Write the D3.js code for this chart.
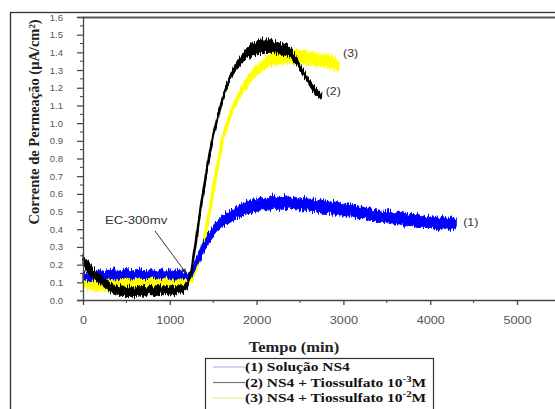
<!DOCTYPE html>
<html>
<head>
<meta charset="utf-8">
<script src="https://cdn.jsdelivr.net/npm/d3@7"></script>
<style>
  html, body { margin: 0; padding: 0; background: #fff; }
  svg { display: block; }
</style>
</head>
<body>
<svg id="chart" width="555" height="409"></svg>
<script>
// Hydrogen permeation current vs. time for three test solutions.
// Each series is stored as the lower and upper edge of its noisy trace.
const tempo = [
  0, 50, 100, 150, 200, 250, 300, 350, 400, 450, 500, 550, 600, 650, 700, 750, 800, 850, 900, 950,
  1000, 1050, 1100, 1150, 1200, 1250, 1300, 1350, 1400, 1450, 1500, 1550, 1600, 1650, 1700, 1750, 1800, 1850, 1900, 1950,
  2000, 2050, 2100, 2150, 2200, 2250, 2300, 2350, 2400, 2450, 2500, 2550, 2600, 2650, 2700, 2750, 2800, 2850, 2900, 2950,
  3000, 3050, 3100, 3150, 3200, 3250, 3300, 3350, 3400, 3450, 3500, 3550, 3600, 3650, 3700, 3750, 3800, 3850, 3900, 3950,
  4000, 4050, 4100, 4150, 4200, 4250, 4300
];

// (1) Solução NS4
const ns4Min = [
  0.11, 0.11, 0.11, 0.12, 0.12, 0.12, 0.12, 0.12, 0.12, 0.12, 0.13, 0.12, 0.12, 0.13, 0.12, 0.12, 0.13, 0.12, 0.12, 0.13,
  0.12, 0.12, 0.12, 0.12, 0.12, 0.13, 0.18, 0.23, 0.28, 0.32, 0.36, 0.39, 0.41, 0.43, 0.44, 0.46, 0.47, 0.48, 0.49, 0.49,
  0.50, 0.51, 0.51, 0.51, 0.52, 0.51, 0.52, 0.51, 0.52, 0.51, 0.51, 0.51, 0.50, 0.50, 0.50, 0.49, 0.49, 0.49, 0.48, 0.48,
  0.48, 0.47, 0.47, 0.46, 0.46, 0.46, 0.45, 0.45, 0.44, 0.44, 0.44, 0.43, 0.43, 0.43, 0.42, 0.42, 0.42, 0.41, 0.41, 0.41,
  0.41, 0.40, 0.40, 0.41, 0.40, 0.40, 0.41
];
const ns4Max = [
  0.16, 0.15, 0.16, 0.16, 0.17, 0.16, 0.17, 0.18, 0.16, 0.17, 0.18, 0.16, 0.17, 0.18, 0.16, 0.17, 0.17, 0.16, 0.18, 0.16,
  0.17, 0.16, 0.17, 0.16, 0.15, 0.16, 0.23, 0.29, 0.34, 0.38, 0.42, 0.45, 0.47, 0.49, 0.51, 0.52, 0.54, 0.55, 0.56, 0.57,
  0.57, 0.58, 0.57, 0.58, 0.59, 0.58, 0.58, 0.59, 0.58, 0.58, 0.57, 0.58, 0.57, 0.57, 0.56, 0.57, 0.56, 0.55, 0.56, 0.55,
  0.54, 0.55, 0.54, 0.53, 0.53, 0.52, 0.52, 0.51, 0.51, 0.50, 0.51, 0.50, 0.49, 0.50, 0.49, 0.48, 0.49, 0.48, 0.47, 0.48,
  0.47, 0.47, 0.46, 0.47, 0.46, 0.47, 0.46
];

// (2) NS4 + Tiossulfato 10^-3 M
const tio3Min = [
  0.21, 0.16, 0.13, 0.11, 0.09, 0.07, 0.05, 0.04, 0.03, 0.02, 0.02, 0.02, 0.02, 0.03, 0.02, 0.03, 0.03, 0.02, 0.03, 0.03,
  0.03, 0.03, 0.04, 0.04, 0.06, 0.17, 0.33, 0.50, 0.66, 0.80, 0.93, 1.03, 1.12, 1.19, 1.25, 1.29, 1.32, 1.35, 1.37, 1.38,
  1.39, 1.40, 1.40, 1.40, 1.40, 1.39, 1.39, 1.38, 1.37, 1.34, 1.30, 1.26, 1.22, 1.18, 1.15, 1.14
];
const tio3Max = [
  0.26, 0.22, 0.19, 0.16, 0.14, 0.12, 0.10, 0.09, 0.08, 0.08, 0.07, 0.08, 0.07, 0.08, 0.08, 0.07, 0.08, 0.08, 0.08, 0.07,
  0.08, 0.08, 0.08, 0.08, 0.10, 0.17, 0.33, 0.50, 0.66, 0.80, 0.93, 1.03, 1.12, 1.21, 1.28, 1.33, 1.37, 1.40, 1.43, 1.45,
  1.46, 1.47, 1.47, 1.47, 1.46, 1.46, 1.45, 1.44, 1.42, 1.38, 1.33, 1.29, 1.25, 1.22, 1.19, 1.17
];

// (3) NS4 + Tiossulfato 10^-2 M
const tio2Min = [
  0.08, 0.06, 0.06, 0.05, 0.06, 0.05, 0.05, 0.06, 0.05, 0.06, 0.06, 0.05, 0.06, 0.06, 0.06, 0.06, 0.06, 0.06, 0.07, 0.06,
  0.07, 0.07, 0.07, 0.07, 0.08, 0.10, 0.16, 0.24, 0.33, 0.47, 0.61, 0.75, 0.88, 0.96, 1.03, 1.09, 1.14, 1.18, 1.21, 1.24,
  1.27, 1.29, 1.31, 1.32, 1.33, 1.33, 1.34, 1.34, 1.34, 1.34, 1.34, 1.33, 1.33, 1.33, 1.32, 1.32, 1.31, 1.31, 1.30, 1.30
];
const tio2Max = [
  0.16, 0.15, 0.15, 0.14, 0.14, 0.14, 0.13, 0.14, 0.14, 0.13, 0.14, 0.14, 0.13, 0.14, 0.15, 0.14, 0.13, 0.14, 0.14, 0.13,
  0.14, 0.14, 0.13, 0.14, 0.13, 0.13, 0.18, 0.26, 0.35, 0.49, 0.63, 0.77, 0.90, 0.99, 1.07, 1.13, 1.18, 1.23, 1.27, 1.30,
  1.33, 1.35, 1.37, 1.39, 1.40, 1.41, 1.41, 1.42, 1.41, 1.42, 1.41, 1.41, 1.40, 1.40, 1.39, 1.39, 1.38, 1.38, 1.37, 1.36
];

const xTicks = [0, 1000, 2000, 3000, 4000, 5000];
const xMinorTicks = [500, 1500, 2500, 3500, 4500];
const yTicks = [0, 0.1, 0.2, 0.3, 0.4, 0.5, 0.6, 0.7, 0.8, 0.9, 1.0, 1.1, 1.2, 1.3, 1.4, 1.5, 1.6];
const yTickLabels = ["0.0", "0.1", "0.2", "0.3", "0.4", "0.5", "0.6", "0.7", "0.8", "0.9", "1.0", "1.1", "1.2", "1.3", "1.4", "1.5", "1.6"];
const yMinorTicks = [0.05, 0.15, 0.25, 0.35, 0.45, 0.55, 0.65, 0.75, 0.85, 0.95, 1.05, 1.15, 1.25, 1.35, 1.45, 1.55];

const legendLabels = ["(1) Solução NS4", "(2) NS4 + Tiossulfato 10", "(3) NS4 + Tiossulfato 10"];
const legendExponents = [null, "-3", "-2"];

const svg = d3.select("#chart");
const sans = "'Liberation Sans', Arial, sans-serif";
const serif = "'Liberation Serif', 'Times New Roman', serif";

const x = d3.scaleLinear().domain([0, 5000]).range([83, 517]);
const y = d3.scaleLinear().domain([0, 1.6]).range([300, 17]);

// text with a slightly widened face, anchored at (px, py)
function wideText(px, py, sx) {
  return svg.append("g")
    .attr("transform", `translate(${px},${py}) scale(${sx},1)`)
    .append("text");
}

const defs = svg.append("defs");

// jitter filter: shifts the traces vertically by fine-grained noise so they read as raw signal
const ruido = defs.append("filter").attr("id", "ruido")
  .attr("x", "-5%").attr("y", "-10%").attr("width", "110%").attr("height", "120%");
ruido.append("feTurbulence")
  .attr("type", "fractalNoise").attr("baseFrequency", "0.9 0.04")
  .attr("numOctaves", 2).attr("seed", 3).attr("result", "turb");
ruido.append("feColorMatrix")
  .attr("in", "turb").attr("type", "matrix")
  .attr("values", "0 0 0 0 0.5  0 1 0 0 0  0 0 0 0 0  0 0 0 0 1")
  .attr("result", "desl");
ruido.append("feDisplacementMap")
  .attr("in", "SourceGraphic").attr("in2", "desl")
  .attr("scale", 9).attr("xChannelSelector", "R").attr("yChannelSelector", "G");

// outer frame and plot top border
svg.append("rect")
  .attr("x", 10.5).attr("y", 12.5).attr("width", 600).attr("height", 500)
  .attr("fill", "none").attr("stroke", "#333").attr("stroke-width", 1.3);
svg.append("line")
  .attr("x1", 83).attr("x2", 555).attr("y1", 17.5).attr("y2", 17.5)
  .attr("stroke", "#555").attr("stroke-width", 1.8);

// series: filled envelope plus a centre trace
const series = [
  { lo: tio2Min, hi: tio2Max, color: "#ffff00", width: 3.5 },
  { lo: ns4Min, hi: ns4Max, color: "#0000ff", width: 3 },
  { lo: tio3Min, hi: tio3Max, color: "#000000", width: 2.5 }
];
const area = d3.area().x(d => x(d.t)).y0(d => y(d.lo)).y1(d => y(d.hi));
const line = d3.line().x(d => x(d.t)).y(d => y((d.lo + d.hi) / 2));
const traces = svg.append("g").attr("filter", "url(#ruido)");
series.forEach(s => {
  const pts = s.lo.map((v, i) => ({ t: tempo[i], lo: v, hi: s.hi[i] }));
  const g = traces.append("g");
  g.append("path")
    .attr("d", area(pts))
    .attr("fill", s.color)
    .attr("stroke", s.color)
    .attr("stroke-width", 1);
  g.append("path")
    .attr("d", line(pts))
    .attr("fill", "none")
    .attr("stroke", s.color)
    .attr("stroke-width", s.width);
});

// y axis
const yAxis = svg.append("g").attr("transform", "translate(83,0)")
  .call(d3.axisLeft(y).tickValues(yTicks).tickFormat((d, i) => yTickLabels[i]).tickSize(6).tickPadding(14));
yAxis.select(".domain").attr("stroke", "#444").attr("stroke-width", 1.3);
yAxis.selectAll(".tick line").attr("stroke", "#444").attr("stroke-width", 1.2);
yAxis.selectAll(".tick text").attr("font-family", sans).attr("font-size", 9.5).attr("fill", "#555");
yAxis.selectAll(".minor").data(yMinorTicks).enter().append("line")
  .attr("x1", -3).attr("x2", 0).attr("y1", d => y(d)).attr("y2", d => y(d))
  .attr("stroke", "#444").attr("stroke-width", 1);

// x axis
svg.append("line")
  .attr("x1", 83).attr("x2", 555).attr("y1", 300.5).attr("y2", 300.5)
  .attr("stroke", "#444").attr("stroke-width", 1.3);
const xAxis = svg.append("g").attr("transform", "translate(0,300)")
  .call(d3.axisBottom(x).tickValues(xTicks).tickFormat(d3.format("d")).tickSize(5).tickPadding(11));
xAxis.select(".domain").remove();
xAxis.selectAll(".tick line").attr("stroke", "#444").attr("stroke-width", 1.3);
xAxis.selectAll(".tick text").attr("font-family", sans).attr("font-size", 11).attr("fill", "#555")
  .attr("transform", "scale(1.15,1)");
xAxis.selectAll(".minor").data(xMinorTicks).enter().append("line")
  .attr("x1", d => x(d)).attr("x2", d => x(d)).attr("y1", 0).attr("y2", 3)
  .attr("stroke", "#444").attr("stroke-width", 1);

// axis titles
svg.append("text")
  .attr("transform", "translate(39,122) rotate(-90)")
  .attr("text-anchor", "middle")
  .attr("font-family", serif).attr("font-weight", "bold").attr("font-size", 14.5).attr("fill", "#222")
  .text("Corrente de Permeação (μA/cm²)");
wideText(294, 352, 1.1)
  .attr("text-anchor", "middle")
  .attr("font-family", serif).attr("font-weight", "bold").attr("font-size", 15).attr("fill", "#222")
  .text("Tempo (min)");

// annotation
defs.append("marker")
  .attr("id", "seta").attr("viewBox", "0 0 10 10").attr("refX", 9).attr("refY", 5)
  .attr("markerWidth", 5).attr("markerHeight", 5).attr("orient", "auto")
  .append("path").attr("d", "M0,0L10,5L0,10z").attr("fill", "#333");
wideText(105, 224, 1.2)
  .attr("font-family", sans).attr("font-size", 11).attr("fill", "#333")
  .text("EC-300mv");
svg.append("line")
  .attr("x1", 155).attr("y1", 231).attr("x2", 186).attr("y2", 273)
  .attr("stroke", "#333").attr("stroke-width", 1).attr("marker-end", "url(#seta)");

// series labels
const seriesLabels = [
  { text: "(1)", t: 4300, v: 0.44, dx: 7, dy: 4 },
  { text: "(2)", t: 2750, v: 1.16, dx: 4, dy: 0 },
  { text: "(3)", t: 2950, v: 1.33, dx: 4, dy: -8 }
];
seriesLabels.forEach(d => {
  wideText(x(d.t) + d.dx, y(d.v) + d.dy, 1.12)
    .attr("font-family", sans).attr("font-size", 11).attr("fill", "#333")
    .text(d.text);
});

// legend
svg.append("rect")
  .attr("x", 205.5).attr("y", 358.5).attr("width", 228).attr("height", 70)
  .attr("fill", "#fff").attr("stroke", "#333").attr("stroke-width", 1.2);
const legendColors = ["#b8b8f0", "#777777", "#eeee99"];
legendLabels.forEach((lab, i) => {
  const yy = 367 + i * 15.5;
  svg.append("line")
    .attr("x1", 213).attr("x2", 245).attr("y1", yy).attr("y2", yy)
    .attr("stroke", legendColors[i]).attr("stroke-width", 1.2);
  const t = wideText(245, yy + 4, 1.19)
    .attr("font-family", serif).attr("font-weight", "bold").attr("font-size", 13).attr("fill", "#111");
  t.append("tspan").text(lab);
  if (legendExponents[i]) {
    t.append("tspan").attr("dy", -5).attr("font-size", 9).text(legendExponents[i]);
    t.append("tspan").attr("dy", 5).text("M");
  }
});
</script>
</body>
</html>
